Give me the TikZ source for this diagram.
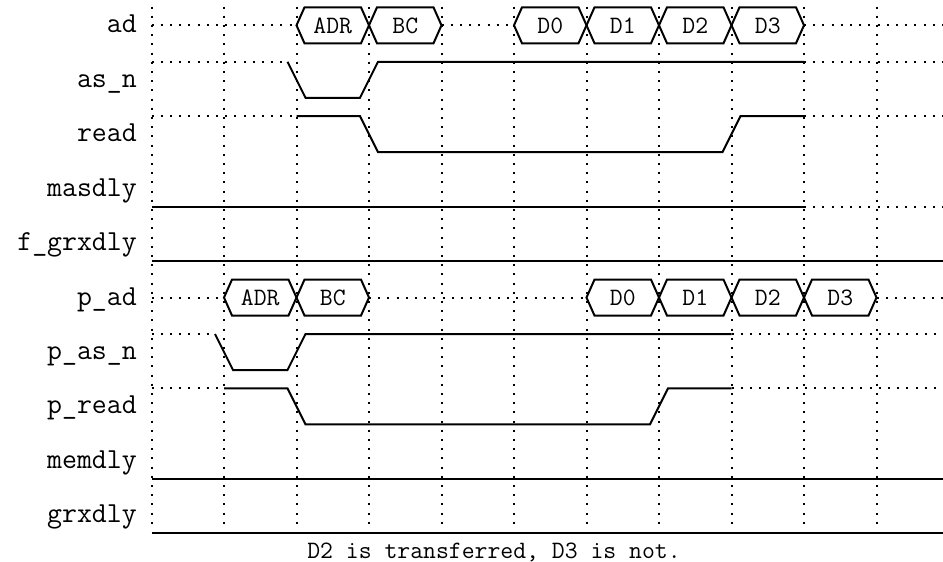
\documentclass[tikz,border=0pt]{standalone}
\usepackage{tikz}

\begin{document}
\begin{tikzpicture}[x=1pt,y=-1pt,
  gridline/.style={line width=2pt, dash pattern=on 2pt off 7.2pt},
  undef/.style={line width=2pt, dash pattern=on 2pt off 7.2pt},
  sig/.style={line width=2pt, line join=miter},
  lbl/.style={anchor=base east, inner sep=0pt, font=\ttfamily\fontsize{29}{32}\selectfont},
  bustxt/.style={anchor=base, inner sep=0pt, font=\ttfamily\fontsize{25}{28}\selectfont}
]
  \useasboundingbox (0,0) rectangle (943,562);
  % time grid
  \foreach \i in {0,...,10}
    \draw[gridline] ({151.5+72.5*\i},6.5) -- ({151.5+72.5*\i},530);

  % signal names
  \node[lbl] (ad) at (137,32.8) {ad};
  \node[lbl] (asn) at (137,87.2) {as\_n};
  \node[lbl] (read) at (137,141.7) {read};
  \node[lbl] (masdly) at (137,196.1) {masdly};
  \node[lbl] (fgrxdly) at (137,250.6) {f\_grxdly};
  \node[lbl] (pad) at (137,305) {p\_ad};
  \node[lbl] (pasn) at (137,359.5) {p\_as\_n};
  \node[lbl] (pread) at (137,413.9) {p\_read};
  \node[lbl] (memdly) at (137,468.4) {memdly};
  \node[lbl] (grxdly) at (137,522.8) {grxdly};

  % ad bus
  \draw[undef] (151.5,25.3) -- (296.5,25.3) (441.5,25.3) -- (514,25.3) (804,25.3) -- (943,25.3);
  \foreach \a/\b/\t in {296.5/369/ADR, 369/441.5/BC, 514/586.5/D0, 586.5/659/D1, 659/731.5/D2, 731.5/804/D3}{
    \draw[sig] (\a,25.3) -- ({\a+8},7.3) -- ({\b-8},7.3) -- (\b,25.3) -- ({\b-8},43.3) -- ({\a+8},43.3) -- cycle;
    \node[bustxt] (ad-\t) at ({(\a+\b)/2},33.3) {\t};
  }
  % as_n, read
  \draw[undef] (151.5,61.75) -- (287.5,61.75) (804,61.75) -- (943,61.75);
  \draw[sig] (287.5,61.75) -- (305.5,97.75) -- (360,97.75) -- (378,61.75) -- (804,61.75);
  \draw[undef] (151.5,116.2) -- (296.5,116.2) (804,116.2) -- (943,116.2);
  \draw[sig] (296.5,116.2) -- (360,116.2) -- (378,152.2) -- (722.5,152.2) -- (740.5,116.2) -- (804,116.2);
  % masdly, f_grxdly
  \draw[sig] (151.5,206.65) -- (804,206.65);
  \draw[undef] (804,206.65) -- (943,206.65);
  \draw[sig] (151.5,261.1) -- (943,261.1);

  % p_ad bus
  \draw[undef] (151.5,297.55) -- (224,297.55) (369,297.55) -- (586.5,297.55) (876.5,297.55) -- (943,297.55);
  \foreach \a/\b/\t in {224/296.5/ADR, 296.5/369/BC, 586.5/659/D0, 659/731.5/D1, 731.5/804/D2, 804/876.5/D3}{
    \draw[sig] (\a,297.55) -- ({\a+8},279.55) -- ({\b-8},279.55) -- (\b,297.55) -- ({\b-8},315.55) -- ({\a+8},315.55) -- cycle;
    \node[bustxt] (pad-\t) at ({(\a+\b)/2},305.55) {\t};
  }
  % p_as_n, p_read
  \draw[undef] (151.5,334) -- (215,334) (731.5,334) -- (943,334);
  \draw[sig] (215,334) -- (233,370) -- (287.5,370) -- (305.5,334) -- (731.5,334);
  \draw[undef] (151.5,388.45) -- (224,388.45) (731.5,388.45) -- (943,388.45);
  \draw[sig] (224,388.45) -- (287.5,388.45) -- (305.5,424.45) -- (650,424.45) -- (668,388.45) -- (731.5,388.45);
  % memdly, grxdly
  \draw[sig] (151.5,478.9) -- (943,478.9);
  \draw[sig] (151.5,533.35) -- (943,533.35);

  \node[bustxt] (note) at (494,558) {D2 is transferred, D3 is not.};
\end{tikzpicture}
\end{document}
